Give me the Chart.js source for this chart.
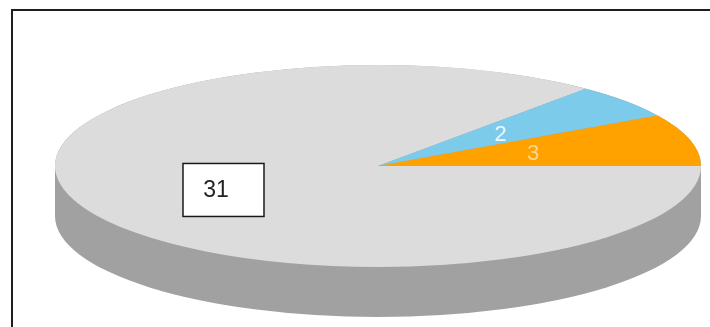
<!DOCTYPE html>
<html>
<head>
<meta charset="utf-8">
<script src="https://cdn.jsdelivr.net/npm/chart.js@4"></script>
<style>
  html, body { margin: 0; padding: 0; background: #fff; }
  #wrap { position: relative; width: 710px; height: 327px; overflow: hidden; }
  #frame { position: absolute; left: 11px; top: 9px; width: 760px; height: 360px; border: 2px solid #1e1e1e; }
  #pie { position: absolute; left: 0; top: 0; }
</style>
</head>
<body>
<div id="wrap">
  <div id="frame"></div>
  <canvas id="pie" width="710" height="327"></canvas>
</div>
<script>
// slices, drawn clockwise from 3 o'clock (gray big slice first)
const categories = ['Category 1', 'Category 2', 'Category 3'];
const values = [31, 2, 3];
const sliceColors = ['#dcdcdc', '#7dcbea', '#ffa200'];
const labelColors = ['#222222', '#eef9ff', '#ffd88f'];
const labelBoxed = [true, false, false];

// 3d look
const RX = 323, RY = 101, DEPTH = 50;
const SIDE_COLOR = '#a1a1a1';

function tiltInfo(chart) {
  const arc = chart.getDatasetMeta(0).data[0];
  const r = arc.outerRadius;
  return { cx: arc.x, cy: arc.y, r, sx: RX / r, sy: RY / r };
}

const tiltPlugin = {
  id: 'tilt3d',
  beforeDatasetsDraw(chart) {
    const { ctx } = chart;
    const { cx, cy, r, sx, sy } = tiltInfo(chart);
    ctx.save();
    ctx.translate(cx, cy);
    ctx.scale(sx, sy);
    ctx.translate(-cx, -cy);
    // side wall, the top face is drawn over it afterwards
    const oy = DEPTH / sy;
    ctx.fillStyle = SIDE_COLOR;
    ctx.beginPath();
    ctx.moveTo(cx + r, cy);
    ctx.lineTo(cx + r, cy + oy);
    ctx.arc(cx, cy + oy, r, 0, Math.PI);
    ctx.lineTo(cx - r, cy);
    ctx.arc(cx, cy, r, Math.PI, 0);
    ctx.closePath();
    ctx.fill();
  },
  afterDatasetsDraw(chart) {
    const { ctx } = chart;
    ctx.restore();
    const { cx, cy, r, sx, sy } = tiltInfo(chart);
    const arcs = chart.getDatasetMeta(0).data;
    ctx.save();
    ctx.textAlign = 'center';
    ctx.textBaseline = 'middle';
    arcs.forEach((a, i) => {
      const mid = (a.startAngle + a.endAngle) / 2;
      const f = labelBoxed[i] ? 0.55 : 0.5;
      const x = cx + Math.cos(mid) * r * f * sx;
      const y = cy + Math.sin(mid) * r * f * sy;
      const text = String(values[i]);
      if (labelBoxed[i]) {
        ctx.font = '23px "Liberation Sans", Arial, sans-serif';
        ctx.fillStyle = '#ffffff';
        ctx.fillRect(x - 34, y - 26, 81, 53);
        ctx.strokeStyle = '#1a1a1a';
        ctx.lineWidth = 1.5;
        ctx.strokeRect(x - 34, y - 26, 81, 53);
        ctx.fillStyle = labelColors[i];
        ctx.fillText(text, x - 1, y + 1);
      } else {
        ctx.font = '22px "Liberation Sans", Arial, sans-serif';
        ctx.fillStyle = labelColors[i];
        ctx.fillText(text, x - 1, y + 1);
      }
    });
    ctx.restore();
  },
};

new Chart(document.getElementById('pie'), {
  type: 'pie',
  data: {
    labels: categories,
    datasets: [{
      data: values,
      backgroundColor: sliceColors,
      borderWidth: 0,
      clip: false,
    }],
  },
  options: {
    responsive: false,
    animation: false,
    events: [],
    rotation: 90,
    layout: { padding: { left: 46, right: 0, top: 5, bottom: 0 } },
    plugins: {
      legend: { display: false },
      tooltip: { enabled: false },
    },
  },
  plugins: [tiltPlugin],
});
</script>
</body>
</html>
